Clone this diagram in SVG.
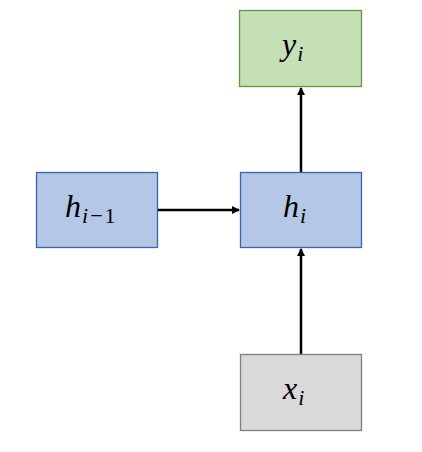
<svg xmlns="http://www.w3.org/2000/svg" width="422" height="452" viewBox="0 0 422 452">
<style>
.t{font-family:"Liberation Serif","DejaVu Serif",serif;font-style:italic;font-size:32px;fill:#000}
.s{font-size:22px}
.u{font-style:normal}
.c{stroke:#000;stroke-width:2.5;fill:none}
</style>
<defs>
<marker id="a" markerWidth="8" markerHeight="8" refX="7" refY="4" orient="auto" markerUnits="userSpaceOnUse">
<path d="M0,0 L8,4 L0,8 Z" fill="#000"/>
</marker>
</defs>
<rect width="422" height="452" fill="#fff"/>
<g id="connectors">
<line class="c" x1="158" y1="210" x2="239" y2="210" marker-end="url(#a)"/>
<line class="c" x1="301" y1="354" x2="301" y2="249" marker-end="url(#a)"/>
<line class="c" x1="301" y1="172" x2="301" y2="88" marker-end="url(#a)"/>
</g>
<g id="y">
<rect x="239.5" y="10.5" width="122" height="76" fill="#c5e0b4" stroke="#5e9a3c" stroke-width="1.3"/>
<text class="t" x="282" y="55">y<tspan class="s" dx="1" dy="6">i</tspan></text>
</g>
<g id="hprev">
<rect x="36.5" y="172.5" width="121" height="75" fill="#b4c7e7" stroke="#3a63ad" stroke-width="1.3"/>
<text class="t" x="65" y="217">h<tspan class="s" dx="1" dy="6">i<tspan class="u" dx="2">−</tspan><tspan class="u" dx="2">1</tspan></tspan></text>
</g>
<g id="h">
<rect x="240.5" y="172.5" width="121" height="75" fill="#b4c7e7" stroke="#3a63ad" stroke-width="1.3"/>
<text class="t" x="283" y="217">h<tspan class="s" dx="1" dy="6">i</tspan></text>
</g>
<g id="x">
<rect x="240.5" y="354.5" width="121" height="76" fill="#d9d9d9" stroke="#7f7f7f" stroke-width="1.3"/>
<text class="t" x="283" y="399">x<tspan class="s" dx="1" dy="6">i</tspan></text>
</g>
</svg>
